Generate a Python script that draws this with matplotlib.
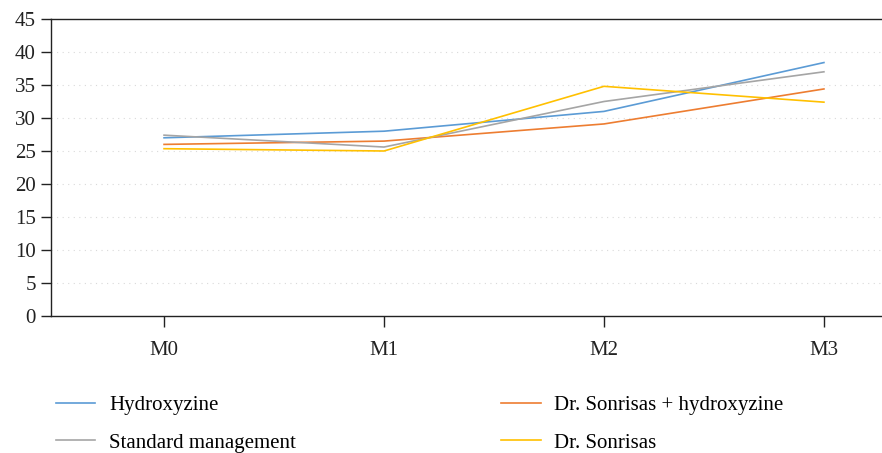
import matplotlib
matplotlib.use("Agg")
import matplotlib.pyplot as plt

plt.rcParams['font.family'] = ['Liberation Serif', 'DejaVu Serif']

categories = ["M0", "M1", "M2", "M3"]
hydroxyzine = [27.0, 28.0, 31.0, 38.4]
standard = [27.4, 25.6, 32.5, 37.0]
sonrisas_hydroxyzine = [26.0, 26.5, 29.1, 34.4]
sonrisas = [25.35, 25.0, 34.8, 32.4]
yticks = [0, 5, 10, 15, 20, 25, 30, 35, 40, 45]

fig = plt.figure(figsize=(8.82, 4.53), dpi=100)
ax = fig.add_axes([51/882, 1-316/453, 1-51/882, (316-19)/453])

x = list(range(len(categories)))
l_h, = ax.plot(x, hydroxyzine, color="#5B9BD5", lw=1.2, label="Hydroxyzine")
l_dh, = ax.plot(x, sonrisas_hydroxyzine, color="#ED7D31", lw=1.2, label="Dr. Sonrisas + hydroxyzine")
l_s, = ax.plot(x, standard, color="#A5A5A5", lw=1.2, label="Standard management")
l_d, = ax.plot(x, sonrisas, color="#FFC000", lw=1.2, label="Dr. Sonrisas")

ax.set_ylim(0, 45)
ax.set_xlim(-0.514, 3.264)
ax.set_yticks(yticks)
ax.set_xticks(x)
ax.set_xticklabels(categories)
for v in yticks[1:-1]:
    ax.axhline(v, color="#D9D9D9", lw=0.8, ls=(0, (1, 4)), zorder=0)

for s in ["left", "bottom", "top"]:
    ax.spines[s].set_color("#222222")
    ax.spines[s].set_linewidth(1.0)
ax.spines["right"].set_visible(False)
ax.tick_params(axis="y", length=7, width=1, pad=4, labelsize=15, colors="#222222")
ax.tick_params(axis="x", length=8, width=1, pad=10, labelsize=15, colors="#222222")

fig.legend(handles=[l_h, l_s, l_dh, l_d], ncol=2, loc="upper left",
           bbox_to_anchor=(37/882, 1-377/453), frameon=False, fontsize=15,
           handlelength=1.9, handletextpad=0.65, columnspacing=9.85, labelspacing=0.85)

fig.savefig("out.png", dpi=100)
